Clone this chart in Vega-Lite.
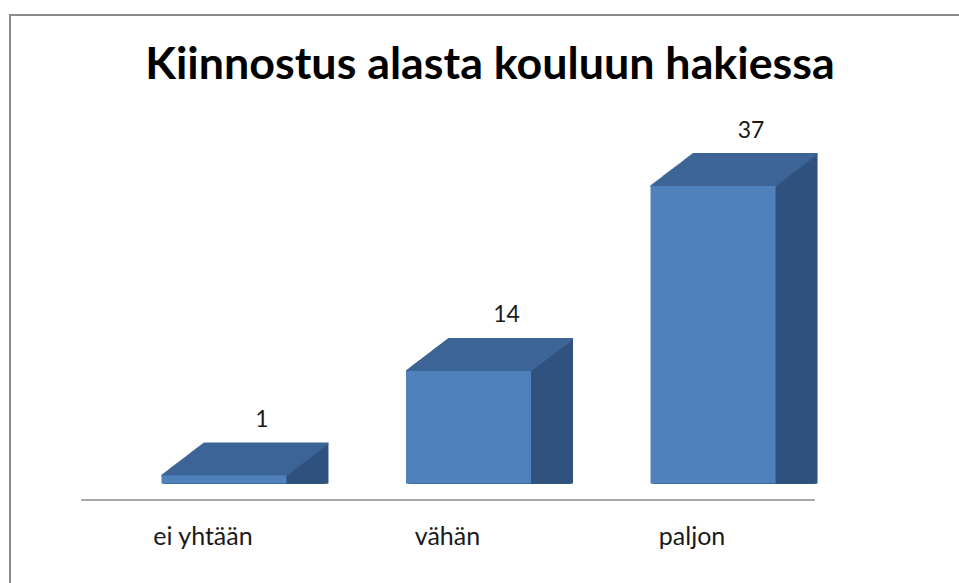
{
"$schema":"https://vega.github.io/schema/vega-lite/v6.json",
"autosize":{"type":"none"},
"padding":{"left":10,"top":15,"right":0,"bottom":0},
"width":960,"height":580,
"background":"#ffffff",
"config":{"view":{"stroke":"#8C8C8C","strokeWidth":2},"bar":{"width":125}},
"title":{"text":"Kiinnostus alasta kouluun hakiessa","font":"Lato","fontSize":44.8,"fontWeight":"bold","color":"#000000","anchor":"middle","baseline":"alphabetic","offset":-108.4},
"data":{"values":[{"k":"ei yhtään","v":1},{"k":"vähän","v":14},{"k":"paljon","v":37}]},
"encoding":{
"x":{"field":"k","type":"nominal","sort":null,"scale":{"range":[70.7,804.3],"paddingInner":0,"paddingOuter":0},"axis":{"title":null,"labelAngle":0,"ticks":false,"tickSize":0,"labelPadding":45,"labelBaseline":"alphabetic","labelFont":"Lato","labelFontSize":25,"labelColor":"#1a1a1a","domainColor":"#A6A6A6","domainWidth":2,"offset":-95.5,"grid":false}},
"y":{"field":"v","type":"quantitative","stack":null,"scale":{"domain":[-13.87,58.27],"nice":false,"zero":false},"axis":null}
},
"layer":[
{"mark":{"type":"bar","color":"#30527E","xOffset":63,"yOffset":-32,"y2Offset":-32}},
{"mark":{"type":"bar","color":"#3C6496","xOffset":63,"yOffset":-33,"y2Offset":-31},"encoding":{"y2":{"field":"v"}}},
{"mark":{"type":"bar","color":"#30527E","xOffset":62,"yOffset":-31.24,"y2Offset":-31.24}},
{"mark":{"type":"bar","color":"#3C6496","xOffset":62,"yOffset":-32.24,"y2Offset":-30.24},"encoding":{"y2":{"field":"v"}}},
{"mark":{"type":"bar","color":"#30527E","xOffset":61,"yOffset":-30.48,"y2Offset":-30.48}},
{"mark":{"type":"bar","color":"#3C6496","xOffset":61,"yOffset":-31.48,"y2Offset":-29.48},"encoding":{"y2":{"field":"v"}}},
{"mark":{"type":"bar","color":"#30527E","xOffset":60,"yOffset":-29.71,"y2Offset":-29.71}},
{"mark":{"type":"bar","color":"#3C6496","xOffset":60,"yOffset":-30.71,"y2Offset":-28.71},"encoding":{"y2":{"field":"v"}}},
{"mark":{"type":"bar","color":"#30527E","xOffset":59,"yOffset":-28.95,"y2Offset":-28.95}},
{"mark":{"type":"bar","color":"#3C6496","xOffset":59,"yOffset":-29.95,"y2Offset":-27.95},"encoding":{"y2":{"field":"v"}}},
{"mark":{"type":"bar","color":"#30527E","xOffset":58,"yOffset":-28.19,"y2Offset":-28.19}},
{"mark":{"type":"bar","color":"#3C6496","xOffset":58,"yOffset":-29.19,"y2Offset":-27.19},"encoding":{"y2":{"field":"v"}}},
{"mark":{"type":"bar","color":"#30527E","xOffset":57,"yOffset":-27.43,"y2Offset":-27.43}},
{"mark":{"type":"bar","color":"#3C6496","xOffset":57,"yOffset":-28.43,"y2Offset":-26.43},"encoding":{"y2":{"field":"v"}}},
{"mark":{"type":"bar","color":"#30527E","xOffset":56,"yOffset":-26.67,"y2Offset":-26.67}},
{"mark":{"type":"bar","color":"#3C6496","xOffset":56,"yOffset":-27.67,"y2Offset":-25.67},"encoding":{"y2":{"field":"v"}}},
{"mark":{"type":"bar","color":"#30527E","xOffset":55,"yOffset":-25.9,"y2Offset":-25.9}},
{"mark":{"type":"bar","color":"#3C6496","xOffset":55,"yOffset":-26.9,"y2Offset":-24.9},"encoding":{"y2":{"field":"v"}}},
{"mark":{"type":"bar","color":"#30527E","xOffset":54,"yOffset":-25.14,"y2Offset":-25.14}},
{"mark":{"type":"bar","color":"#3C6496","xOffset":54,"yOffset":-26.14,"y2Offset":-24.14},"encoding":{"y2":{"field":"v"}}},
{"mark":{"type":"bar","color":"#30527E","xOffset":53,"yOffset":-24.38,"y2Offset":-24.38}},
{"mark":{"type":"bar","color":"#3C6496","xOffset":53,"yOffset":-25.38,"y2Offset":-23.38},"encoding":{"y2":{"field":"v"}}},
{"mark":{"type":"bar","color":"#30527E","xOffset":52,"yOffset":-23.62,"y2Offset":-23.62}},
{"mark":{"type":"bar","color":"#3C6496","xOffset":52,"yOffset":-24.62,"y2Offset":-22.62},"encoding":{"y2":{"field":"v"}}},
{"mark":{"type":"bar","color":"#30527E","xOffset":51,"yOffset":-22.86,"y2Offset":-22.86}},
{"mark":{"type":"bar","color":"#3C6496","xOffset":51,"yOffset":-23.86,"y2Offset":-21.86},"encoding":{"y2":{"field":"v"}}},
{"mark":{"type":"bar","color":"#30527E","xOffset":50,"yOffset":-22.1,"y2Offset":-22.1}},
{"mark":{"type":"bar","color":"#3C6496","xOffset":50,"yOffset":-23.1,"y2Offset":-21.1},"encoding":{"y2":{"field":"v"}}},
{"mark":{"type":"bar","color":"#30527E","xOffset":49,"yOffset":-21.33,"y2Offset":-21.33}},
{"mark":{"type":"bar","color":"#3C6496","xOffset":49,"yOffset":-22.33,"y2Offset":-20.33},"encoding":{"y2":{"field":"v"}}},
{"mark":{"type":"bar","color":"#30527E","xOffset":48,"yOffset":-20.57,"y2Offset":-20.57}},
{"mark":{"type":"bar","color":"#3C6496","xOffset":48,"yOffset":-21.57,"y2Offset":-19.57},"encoding":{"y2":{"field":"v"}}},
{"mark":{"type":"bar","color":"#30527E","xOffset":47,"yOffset":-19.81,"y2Offset":-19.81}},
{"mark":{"type":"bar","color":"#3C6496","xOffset":47,"yOffset":-20.81,"y2Offset":-18.81},"encoding":{"y2":{"field":"v"}}},
{"mark":{"type":"bar","color":"#30527E","xOffset":46,"yOffset":-19.05,"y2Offset":-19.05}},
{"mark":{"type":"bar","color":"#3C6496","xOffset":46,"yOffset":-20.05,"y2Offset":-18.05},"encoding":{"y2":{"field":"v"}}},
{"mark":{"type":"bar","color":"#30527E","xOffset":45,"yOffset":-18.29,"y2Offset":-18.29}},
{"mark":{"type":"bar","color":"#3C6496","xOffset":45,"yOffset":-19.29,"y2Offset":-17.29},"encoding":{"y2":{"field":"v"}}},
{"mark":{"type":"bar","color":"#30527E","xOffset":44,"yOffset":-17.52,"y2Offset":-17.52}},
{"mark":{"type":"bar","color":"#3C6496","xOffset":44,"yOffset":-18.52,"y2Offset":-16.52},"encoding":{"y2":{"field":"v"}}},
{"mark":{"type":"bar","color":"#30527E","xOffset":43,"yOffset":-16.76,"y2Offset":-16.76}},
{"mark":{"type":"bar","color":"#3C6496","xOffset":43,"yOffset":-17.76,"y2Offset":-15.76},"encoding":{"y2":{"field":"v"}}},
{"mark":{"type":"bar","color":"#30527E","xOffset":42,"yOffset":-16,"y2Offset":-16}},
{"mark":{"type":"bar","color":"#3C6496","xOffset":42,"yOffset":-17,"y2Offset":-15},"encoding":{"y2":{"field":"v"}}},
{"mark":{"type":"bar","color":"#30527E","xOffset":41,"yOffset":-15.24,"y2Offset":-15.24}},
{"mark":{"type":"bar","color":"#3C6496","xOffset":41,"yOffset":-16.24,"y2Offset":-14.24},"encoding":{"y2":{"field":"v"}}},
{"mark":{"type":"bar","color":"#30527E","xOffset":40,"yOffset":-14.48,"y2Offset":-14.48}},
{"mark":{"type":"bar","color":"#3C6496","xOffset":40,"yOffset":-15.48,"y2Offset":-13.48},"encoding":{"y2":{"field":"v"}}},
{"mark":{"type":"bar","color":"#30527E","xOffset":39,"yOffset":-13.71,"y2Offset":-13.71}},
{"mark":{"type":"bar","color":"#3C6496","xOffset":39,"yOffset":-14.71,"y2Offset":-12.71},"encoding":{"y2":{"field":"v"}}},
{"mark":{"type":"bar","color":"#30527E","xOffset":38,"yOffset":-12.95,"y2Offset":-12.95}},
{"mark":{"type":"bar","color":"#3C6496","xOffset":38,"yOffset":-13.95,"y2Offset":-11.95},"encoding":{"y2":{"field":"v"}}},
{"mark":{"type":"bar","color":"#30527E","xOffset":37,"yOffset":-12.19,"y2Offset":-12.19}},
{"mark":{"type":"bar","color":"#3C6496","xOffset":37,"yOffset":-13.19,"y2Offset":-11.19},"encoding":{"y2":{"field":"v"}}},
{"mark":{"type":"bar","color":"#30527E","xOffset":36,"yOffset":-11.43,"y2Offset":-11.43}},
{"mark":{"type":"bar","color":"#3C6496","xOffset":36,"yOffset":-12.43,"y2Offset":-10.43},"encoding":{"y2":{"field":"v"}}},
{"mark":{"type":"bar","color":"#30527E","xOffset":35,"yOffset":-10.67,"y2Offset":-10.67}},
{"mark":{"type":"bar","color":"#3C6496","xOffset":35,"yOffset":-11.67,"y2Offset":-9.67},"encoding":{"y2":{"field":"v"}}},
{"mark":{"type":"bar","color":"#30527E","xOffset":34,"yOffset":-9.9,"y2Offset":-9.9}},
{"mark":{"type":"bar","color":"#3C6496","xOffset":34,"yOffset":-10.9,"y2Offset":-8.9},"encoding":{"y2":{"field":"v"}}},
{"mark":{"type":"bar","color":"#30527E","xOffset":33,"yOffset":-9.14,"y2Offset":-9.14}},
{"mark":{"type":"bar","color":"#3C6496","xOffset":33,"yOffset":-10.14,"y2Offset":-8.14},"encoding":{"y2":{"field":"v"}}},
{"mark":{"type":"bar","color":"#30527E","xOffset":32,"yOffset":-8.38,"y2Offset":-8.38}},
{"mark":{"type":"bar","color":"#3C6496","xOffset":32,"yOffset":-9.38,"y2Offset":-7.38},"encoding":{"y2":{"field":"v"}}},
{"mark":{"type":"bar","color":"#30527E","xOffset":31,"yOffset":-7.62,"y2Offset":-7.62}},
{"mark":{"type":"bar","color":"#3C6496","xOffset":31,"yOffset":-8.62,"y2Offset":-6.62},"encoding":{"y2":{"field":"v"}}},
{"mark":{"type":"bar","color":"#30527E","xOffset":30,"yOffset":-6.86,"y2Offset":-6.86}},
{"mark":{"type":"bar","color":"#3C6496","xOffset":30,"yOffset":-7.86,"y2Offset":-5.86},"encoding":{"y2":{"field":"v"}}},
{"mark":{"type":"bar","color":"#30527E","xOffset":29,"yOffset":-6.1,"y2Offset":-6.1}},
{"mark":{"type":"bar","color":"#3C6496","xOffset":29,"yOffset":-7.1,"y2Offset":-5.1},"encoding":{"y2":{"field":"v"}}},
{"mark":{"type":"bar","color":"#30527E","xOffset":28,"yOffset":-5.33,"y2Offset":-5.33}},
{"mark":{"type":"bar","color":"#3C6496","xOffset":28,"yOffset":-6.33,"y2Offset":-4.33},"encoding":{"y2":{"field":"v"}}},
{"mark":{"type":"bar","color":"#30527E","xOffset":27,"yOffset":-4.57,"y2Offset":-4.57}},
{"mark":{"type":"bar","color":"#3C6496","xOffset":27,"yOffset":-5.57,"y2Offset":-3.57},"encoding":{"y2":{"field":"v"}}},
{"mark":{"type":"bar","color":"#30527E","xOffset":26,"yOffset":-3.81,"y2Offset":-3.81}},
{"mark":{"type":"bar","color":"#3C6496","xOffset":26,"yOffset":-4.81,"y2Offset":-2.81},"encoding":{"y2":{"field":"v"}}},
{"mark":{"type":"bar","color":"#30527E","xOffset":25,"yOffset":-3.05,"y2Offset":-3.05}},
{"mark":{"type":"bar","color":"#3C6496","xOffset":25,"yOffset":-4.05,"y2Offset":-2.05},"encoding":{"y2":{"field":"v"}}},
{"mark":{"type":"bar","color":"#30527E","xOffset":24,"yOffset":-2.29,"y2Offset":-2.29}},
{"mark":{"type":"bar","color":"#3C6496","xOffset":24,"yOffset":-3.29,"y2Offset":-1.29},"encoding":{"y2":{"field":"v"}}},
{"mark":{"type":"bar","color":"#30527E","xOffset":23,"yOffset":-1.52,"y2Offset":-1.52}},
{"mark":{"type":"bar","color":"#3C6496","xOffset":23,"yOffset":-2.52,"y2Offset":-0.52},"encoding":{"y2":{"field":"v"}}},
{"mark":{"type":"bar","color":"#30527E","xOffset":22,"yOffset":-0.76,"y2Offset":-0.76}},
{"mark":{"type":"bar","color":"#3C6496","xOffset":22,"yOffset":-1.76,"y2Offset":0.24},"encoding":{"y2":{"field":"v"}}},
{"mark":{"type":"bar","color":"#3C6496","xOffset":21,"yOffset":-1,"y2Offset":1},"encoding":{"y2":{"field":"v"}}},
{"mark":{"type":"bar","color":"#4F81BD","xOffset":21,"yOffset":0,"y2Offset":0}},
{"mark":{"type":"text","font":"Lato","fontSize":23,"baseline":"alphabetic","align":"center","dx":59,"dy":-48.5,"color":"#1a1a1a"},"encoding":{"text":{"field":"v","type":"quantitative"}}}
]
}
